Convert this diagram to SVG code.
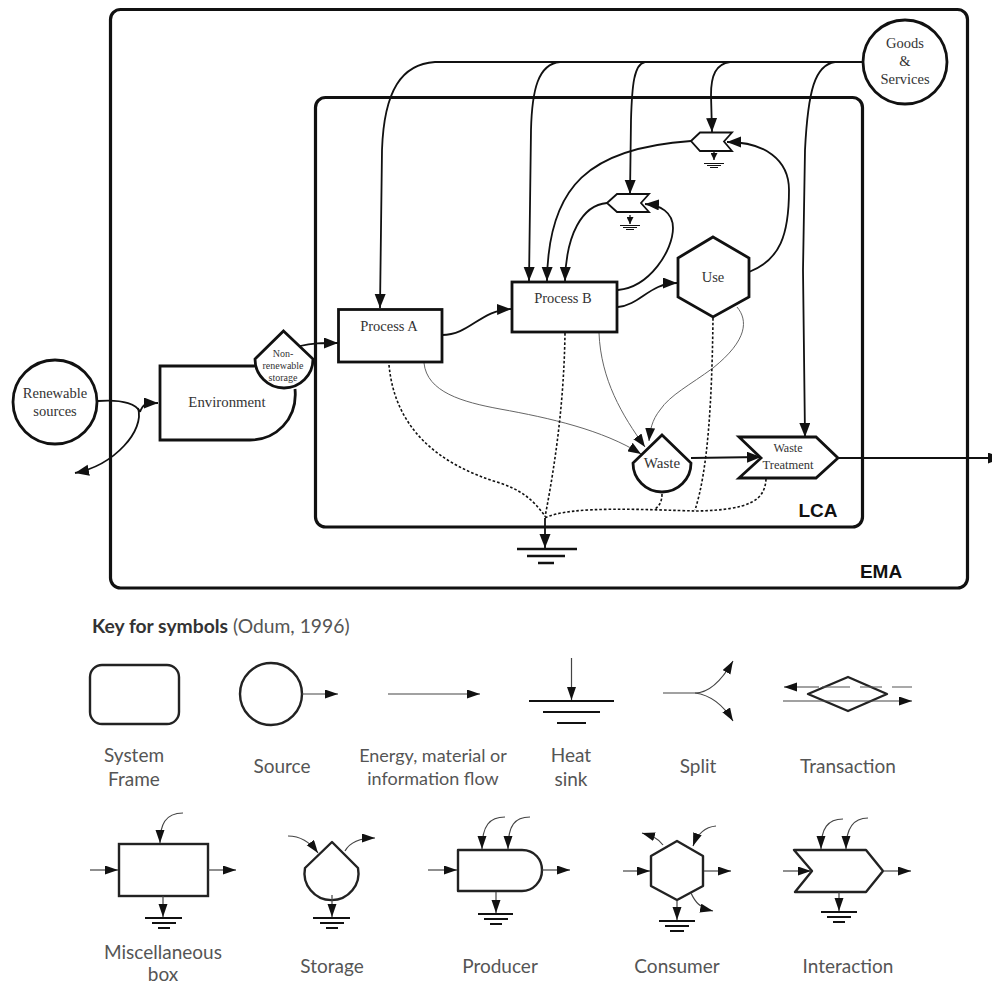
<svg xmlns="http://www.w3.org/2000/svg" width="992" height="987" viewBox="0 0 992 987">
<style>
.node{fill:#fff;stroke:#111;stroke-width:2.8;stroke-linejoin:miter}
.frame{fill:none;stroke:#111;stroke-width:3.2}
.f{fill:none;stroke:#111;stroke-width:1.8}
.a{marker-end:url(#big)}
.t{fill:none;stroke:#666;stroke-width:1}
.ta{marker-end:url(#mid)}
.d{fill:none;stroke:#111;stroke-width:1.6;stroke-dasharray:2.6 2}
.g{stroke:#111;fill:none}
.k{fill:none;stroke:#222;stroke-width:2.4;stroke-linejoin:round}
.kf{fill:none;stroke:#444;stroke-width:1.2;marker-end:url(#key)}
.s{font-family:"Liberation Serif",serif;fill:#333;text-anchor:middle;font-size:14.500px}
.b{font-family:"Liberation Sans",sans-serif;font-weight:bold;font-size:19px;fill:#111;text-anchor:middle}
.l{font-family:Lato,"Open Sans",sans-serif;fill:#555;text-anchor:middle;font-size:19px}
</style>
<defs>
<marker id="big" markerUnits="userSpaceOnUse" markerWidth="15" markerHeight="12" refX="14" refY="5.500" orient="auto"><path d="M0 0L14 5.500L0 11Z" fill="#111"/></marker>
<marker id="mid" markerUnits="userSpaceOnUse" markerWidth="14" markerHeight="10" refX="13" refY="5" orient="auto"><path d="M0 0L13 5L0 10Z" fill="#111"/></marker>
<marker id="small" markerUnits="userSpaceOnUse" markerWidth="8" markerHeight="7" refX="7" refY="3.500" orient="auto"><path d="M0 0L7 3.500L0 7Z" fill="#111"/></marker>
<marker id="key" markerUnits="userSpaceOnUse" markerWidth="14" markerHeight="10" refX="13" refY="4.500" orient="auto"><path d="M0 0L13 4.500L0 9Z" fill="#111"/></marker>
</defs>

<g id="ema-frame"><rect class="frame" x="110.500" y="9.500" width="857" height="578.500" rx="10"/><text class="b" x="881" y="578">EMA</text></g>
<g id="lca-frame"><rect class="frame" x="315.500" y="97.500" width="547" height="429.500" rx="10"/><text class="b" x="818" y="517">LCA</text></g>

<g id="connectors">
<path class="f a" d="M863 62H435C402 64 384 90 382 150L380 308"/>
<path class="f a" d="M560 62C538 64 532 90 531 130L529 281"/>
<path class="f a" d="M645 62C634 64 632 85 631 120L630 194"/>
<path class="f a" d="M730 62C716 64 711 75 711 95L712 132"/>
<path class="f a" d="M835 62C815 65 808 90 805 150L803 270L805 437"/>
<path class="f a" d="M691 141C590 148 548 185 547 281"/>
<path class="f a" d="M607 203C582 205 566 235 565 281"/>
<path class="f a" d="M618 290C650 287 673 250 673 228C673 212 660 205 645 204"/>
<path class="f a" d="M618 307C640 305 650 283 677 283"/>
<path class="f a" d="M749 272C780 260 789 235 789 190C789 160 765 142 727 142"/>
<path class="f a" d="M442 335C470 335 480 310 511 309"/>
<path class="f a" d="M300 346C312 343 322 343 338 343"/>
<path class="f" d="M98 401C125 399 137 405 140 412"/>
<path class="f a" d="M140 412C143 404 145 403 158 403"/>
<path class="f a" d="M138 408C145 430 115 465 75 473"/>
<path class="f a" d="M691 458L761 457"/>
<path class="f a" d="M838 458H1002"/>
<path class="f a" d="M545 518V548"/>
<path class="t ta" d="M424 363C427 392 462 402 500 409C550 418 603 430 641 454"/>
<path class="t ta" d="M599 333C601 380 622 415 645 447"/>
<path class="t ta" d="M737 307C748 320 748 340 713 368C690 385 670 395 660 410C652 420 650 430 649 441"/>
<path class="d" d="M389 365C395 430 440 465 500 483C520 490 532 498 545 516"/>
<path class="d" d="M565 333C564 400 556 460 545 517"/>
<path class="d" d="M713 318C712 400 708 470 695 510"/>
<path class="d" d="M662 494C662 503 658 507 655 509"/>
<path class="d" d="M766 479C765 500 750 510 697 511C650 510 570 505 545 518"/>
</g>

<g id="renewable"><circle class="node" cx="55" cy="402" r="42"/><text class="s" x="55" y="398">Renewable</text><text class="s" x="55" y="416">sources</text></g>
<g id="goods"><circle class="node" cx="905" cy="62" r="42"/><text class="s" x="905" y="48">Goods</text><text class="s" x="905" y="66">&amp;</text><text class="s" x="905" y="84">Services</text></g>
<g id="environment"><path class="node" d="M256 366H160V440H250C275 440 298 420 295 389"/><text class="s" x="227" y="407" style="font-size:14.800px">Environment</text></g>
<g id="nonrenewable"><path class="node" d="M283.500 331L313 359A29 29 0 1 1 255 359Z"/><text class="s" x="283" y="357" style="font-size:10px">Non-</text><text class="s" x="283" y="369" style="font-size:10px">renewable</text><text class="s" x="283" y="381" style="font-size:10px">storage</text></g>
<g id="process-a"><rect class="node" x="338.500" y="309.500" width="103.500" height="52.500"/><text class="s" x="389" y="331">Process A</text></g>
<g id="process-b"><rect class="node" x="512" y="282" width="105" height="50"/><text class="s" x="563" y="303">Process B</text></g>
<g id="use"><path class="node" d="M713 237L749 258V297L713 317L678 297V258Z"/><text class="s" x="713" y="282">Use</text></g>
<g id="interaction-1"><path class="node" style="stroke-width:1.8" d="M691 141L700 132.500H732L724 141.500L732 151H700Z"/><path class="g" stroke-width="1.300" d="M714 152V160" marker-end="url(#small)"/><path class="g" stroke-width="1" d="M704 163.500H724M707 165.500H721M710 167.500H718"/></g>
<g id="interaction-2"><path class="node" style="stroke-width:1.8" d="M607 203L617 194H649L641 203L649 212H617Z"/><path class="g" stroke-width="1.300" d="M630 215V224" marker-end="url(#small)"/><path class="g" stroke-width="1" d="M620 225.500H640M623 227.500H637M626 229.500H634"/></g>
<g id="waste"><path class="node" d="M662 435L691 463A29 29 0 1 1 633 463Z"/><text class="s" x="662" y="468" style="font-size:15px">Waste</text></g>
<g id="waste-treatment"><path class="node" d="M739 437H816L838 458L816 478H739L761 458Z"/><text class="s" x="788" y="452" style="font-size:12px">Waste</text><text class="s" x="788" y="469" style="font-size:12.500px">Treatment</text></g>
<g id="sink"><path class="g" stroke-width="2.400" d="M517 549H577M527 556H565M538 563H554"/></g>

<g id="key">
<text x="92" y="633" style="font-family:Lato,'Open Sans',sans-serif;font-size:19.300px;fill:#555"><tspan font-weight="bold" fill="#333">Key for symbols</tspan> (Odum, 1996)</text>
<g id="key-frame"><rect class="k" x="90" y="665" width="89" height="59" rx="12"/><text class="l" x="134" y="762">System</text><text class="l" x="134" y="786">Frame</text></g>
<g id="key-source"><circle class="k" cx="271" cy="694" r="31"/><path class="kf" d="M302 694H338"/><text class="l" x="282" y="773">Source</text></g>
<g id="key-flow"><path class="kf" d="M388 694H480"/><text class="l" x="433" y="762" style="font-size:18px">Energy, material or</text><text class="l" x="433" y="785" style="font-size:18px">information flow</text></g>
<g id="key-sink"><path class="kf" d="M571.500 658V700"/><path class="g" stroke-width="2.200" d="M529 701H614M543 712H600M557 723H586"/><text class="l" x="571" y="762">Heat</text><text class="l" x="571" y="786">sink</text></g>
<g id="key-split"><path class="kf" d="M663 693H695C710 693 722 680 733 661"/><path class="kf" d="M695 693C710 695 722 703 733 721"/><text class="l" x="698" y="773">Split</text></g>
<g id="key-transaction"><path class="k" d="M808 694L848 677L887 694L848 711Z"/><path class="kf" d="M819 687H784"/><path class="g" style="stroke:#555" stroke-width="1.200" d="M822 687H850M860 687H882M892 687H912"/><path class="kf" d="M783 701H912"/><text class="l" x="848" y="773">Transaction</text></g>
<g id="key-misc"><rect class="k" x="119" y="844" width="89" height="52" style="stroke-linejoin:miter"/><path class="kf" d="M90 870H118"/><path class="kf" d="M183 813C165 813 160 825 160 843"/><path class="kf" d="M208 870H236"/><path class="kf" d="M163 896V917"/><path class="g" stroke-width="2" d="M145 918H182M152 923H176M158 928H170"/><text class="l" x="163" y="959">Miscellaneous</text><text class="l" x="163" y="981">box</text></g>
<g id="key-storage"><path class="k" d="M332 842L358 868A27 27 0 1 1 305 868Z"/><path class="kf" d="M288 836C300 836 310 842 318 853"/><path class="kf" d="M345 851C350 842 360 838 375 838"/><path class="kf" d="M332 895V917"/><path class="g" stroke-width="2" d="M313 918H350M320 923H344M326 928H338"/><text class="l" x="332" y="973">Storage</text></g>
<g id="key-producer"><path class="k" d="M458 850H522C535 850 542 860 542 870C542 882 533 891 522 891H458Z"/><path class="kf" d="M428 870H457"/><path class="kf" d="M505 817C490 817 482 825 482 849"/><path class="kf" d="M530 817C515 817 508 825 508 849"/><path class="kf" d="M542 870H570"/><path class="kf" d="M496 892V913"/><path class="g" stroke-width="2" d="M478 914H513M484 919H508M490 924H502"/><text class="l" x="500" y="973">Producer</text></g>
<g id="key-consumer"><path class="k" d="M677 841L703 856V886L677 900L651 886V856Z"/><path class="kf" d="M623 871H650"/><path class="kf" d="M704 871H731"/><path class="kf" d="M677 901V920"/><path class="kf" d="M716 826C705 827 697 835 693 846"/><path class="kf" d="M663 845C658 838 652 836 642 833"/><path class="kf" d="M691 893C695 902 700 908 713 911"/><path class="g" stroke-width="2" d="M659 921H695M665 926H689M670 931H684"/><text class="l" x="677" y="973">Consumer</text></g>
<g id="key-interaction"><path class="k" d="M794 850H866L883 871L866 892H795L812 871Z"/><path class="kf" d="M783 871H811"/><path class="kf" d="M843 819C828 819 821 828 821 849"/><path class="kf" d="M868 818C853 818 846 828 846 849"/><path class="kf" d="M883 871H911"/><path class="kf" d="M839 892V911"/><path class="g" stroke-width="2" d="M821 912H857M827 917H851M833 922H845"/><text class="l" x="848" y="973">Interaction</text></g>
</g>
</svg>
